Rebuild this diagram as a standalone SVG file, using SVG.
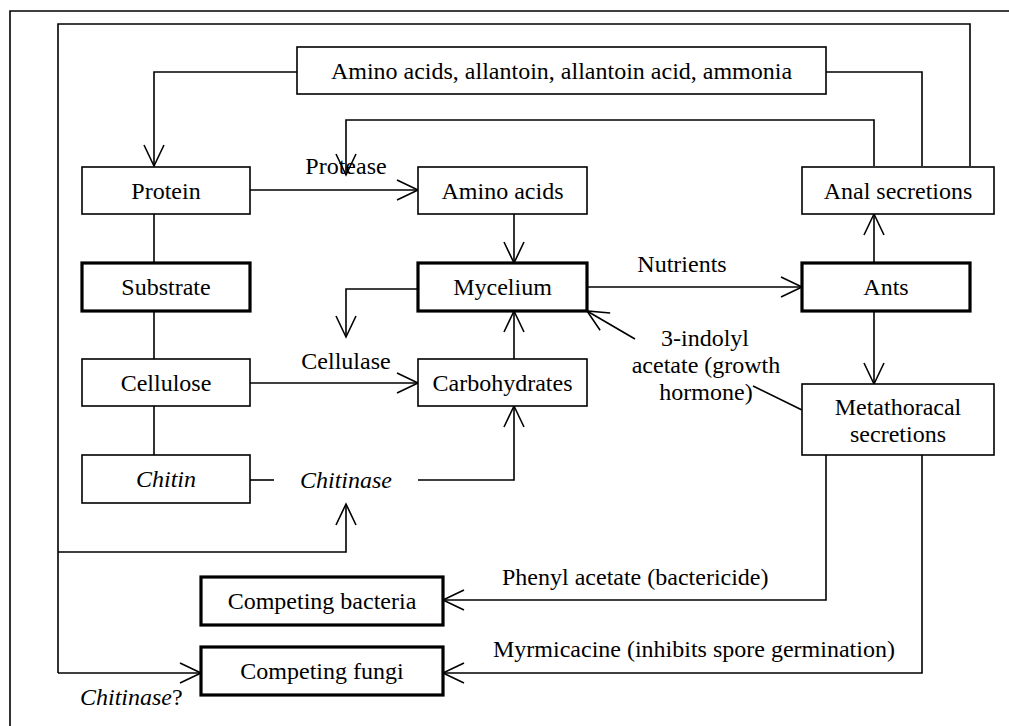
<svg xmlns="http://www.w3.org/2000/svg" width="1009" height="726" viewBox="0 0 1009 726">
  <style>
    .box { fill: #fff; stroke: #000; stroke-width: 1.6; }
    .thick { fill: #fff; stroke: #000; stroke-width: 3.2; }
    .ln { fill: none; stroke: #000; stroke-width: 1.6; }
    .arr { fill: none; stroke: #000; stroke-width: 1.6; marker-end: url(#open); }
    text { font-family: "Liberation Serif", "Times New Roman", serif; font-size: 24px; fill: #000; }
    .c { text-anchor: middle; }
    .it { font-style: italic; }
  </style>
  <defs>
    <marker id="open" markerUnits="userSpaceOnUse" markerWidth="30" markerHeight="30" viewBox="-25 -15 30 30" refX="0" refY="0" orient="auto" overflow="visible">
      <path d="M-21,-10 L0,0 L-21,10" fill="none" stroke="#000" stroke-width="1.6"/>
    </marker>
  </defs>

  <!-- outer frame -->
  <path class="ln" d="M10,726 V11 H1009" stroke-width="2.2"/>

  <g id="connectors">
    <!-- recycling loop from anal secretions back round the left side -->
    <path class="ln" d="M970,166 V24 H58 V673"/>
    <path class="arr" d="M58,673 H201"/>
    <path class="arr" d="M58,552 H346 V504"/>
    <!-- anal secretions to nitrogen box and protease -->
    <path class="ln" d="M922,166 V72 H826"/>
    <path class="arr" d="M874,166 V120 H346 V175"/>
    <!-- nitrogen box to protein -->
    <path class="arr" d="M297,72 H154 V166"/>
    <!-- substrate column -->
    <path class="ln" d="M154,214 V263 M154,311 V359 M154,406 V455"/>
    <path class="arr" d="M250,190 H418"/>
    <path class="arr" d="M250,383 H418"/>
    <path class="ln" d="M250,480 H274"/>
    <path class="arr" d="M418,480 H514 V406"/>
    <path class="arr" d="M514,214 V263"/>
    <path class="arr" d="M514,359 V311"/>
    <path class="arr" d="M418,289 H346 V337"/>
    <!-- mycelium to ants -->
    <path class="arr" d="M587,287 H802"/>
    <path class="arr" d="M874,263 V214"/>
    <path class="arr" d="M874,311 V384"/>
    <!-- growth hormone -->
    <path class="ln" d="M802,410 L753,386"/>
    <path class="arr" d="M635,339 L587,311"/>
    <!-- metathoracal secretions to competitors -->
    <path class="arr" d="M826,455 V600 H443"/>
    <path class="arr" d="M922,455 V673 H443"/>
  </g>

  <g id="nitrogen">
    <rect class="box" x="297" y="47" width="529" height="47"/>
    <text class="c" x="561.5" y="79">Amino acids, allantoin, allantoin acid, ammonia</text>
  </g>
  <g id="protein">
    <rect class="box" x="82" y="167" width="168" height="47"/>
    <text class="c" x="166" y="199">Protein</text>
  </g>
  <g id="amino-acids">
    <rect class="box" x="418" y="167" width="169" height="47"/>
    <text class="c" x="502.5" y="199">Amino acids</text>
  </g>
  <g id="anal-secretions">
    <rect class="box" x="802" y="167" width="192" height="47"/>
    <text class="c" x="898" y="199">Anal secretions</text>
  </g>
  <g id="substrate">
    <rect class="thick" x="82" y="263" width="168" height="48"/>
    <text class="c" x="166" y="295">Substrate</text>
  </g>
  <g id="mycelium">
    <rect class="thick" x="418" y="263" width="169" height="48"/>
    <text class="c" x="502.5" y="295">Mycelium</text>
  </g>
  <g id="ants">
    <rect class="thick" x="802" y="263" width="168" height="48"/>
    <text class="c" x="886" y="295">Ants</text>
  </g>
  <g id="cellulose">
    <rect class="box" x="82" y="359" width="168" height="47"/>
    <text class="c" x="166" y="391">Cellulose</text>
  </g>
  <g id="carbohydrates">
    <rect class="box" x="418" y="359" width="169" height="47"/>
    <text class="c" x="502.5" y="391">Carbohydrates</text>
  </g>
  <g id="chitin">
    <rect class="box" x="82" y="455" width="168" height="48"/>
    <text class="c it" x="166" y="487">Chitin</text>
  </g>
  <g id="metathoracal">
    <rect class="box" x="802" y="384" width="192" height="71"/>
    <text class="c" x="898" y="415">Metathoracal</text>
    <text class="c" x="898" y="442">secretions</text>
  </g>
  <g id="bacteria">
    <rect class="thick" x="201" y="577" width="242" height="48"/>
    <text class="c" x="322" y="609">Competing bacteria</text>
  </g>
  <g id="fungi">
    <rect class="thick" x="201" y="647" width="242" height="48"/>
    <text class="c" x="322" y="679">Competing fungi</text>
  </g>

  <g id="labels">
    <text class="c" x="346" y="174">Protease</text>
    <text class="c" x="346" y="369">Cellulase</text>
    <text class="c it" x="346" y="488">Chitinase</text>
    <text class="c" x="682" y="272">Nutrients</text>
    <text class="c" x="705" y="346">3-indolyl</text>
    <text class="c" x="706" y="373">acetate (growth</text>
    <text class="c" x="706" y="400">hormone)</text>
    <text x="502" y="585">Phenyl acetate (bactericide)</text>
    <text x="493" y="657">Myrmicacine (inhibits spore germination)</text>
    <text x="80" y="705"><tspan class="it">Chitinase</tspan>?</text>
  </g>
</svg>
